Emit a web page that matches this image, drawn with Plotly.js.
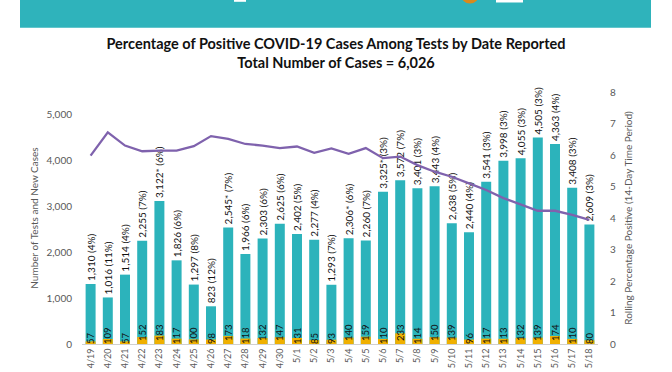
<!DOCTYPE html>
<html>
<head>
<meta charset="utf-8">
<script src="https://cdn.plot.ly/plotly-3.0.1.min.js"></script>
<style>
  html, body { margin: 0; padding: 0; background: #ffffff; }
  #chart { width: 672px; height: 372px; }
</style>
</head>
<body>
<div id="chart"></div>
<script>
// ---- data ----
const dates = ["4/19","4/20","4/21","4/22","4/23","4/24","4/25","4/26","4/27","4/28",
               "4/29","4/30","5/1","5/2","5/3","5/4","5/5","5/6","5/7","5/8",
               "5/9","5/10","5/11","5/12","5/13","5/14","5/15","5/16","5/17","5/18"];
const tests = [1310,1016,1514,2255,3122,1826,1297,823,2545,1966,
               2303,2625,2402,2277,1293,2306,2260,3325,3572,3401,
               3443,2638,2440,3541,3998,4055,4505,4363,3408,2609];
const starred = [false,false,false,false,true,false,false,false,true,false,
                 false,false,false,false,false,true,false,true,false,false,
                 false,false,false,false,false,false,false,false,false,false];
const dailyPct = [4,11,4,7,6,6,8,12,7,6,
                  6,6,5,4,7,6,7,3,7,3,
                  4,5,4,3,3,3,3,4,3,3];
const newCases = [57,109,57,152,183,117,100,98,173,118,
                  132,147,131,85,93,140,159,110,233,114,
                  150,139,96,117,113,132,139,174,110,80];
const rollingPct = [5.98,6.72,6.30,6.12,6.14,6.14,6.28,6.60,6.51,6.35,
                    6.30,6.22,6.27,6.07,6.21,6.04,6.22,5.90,5.95,5.68,
                    5.47,5.31,5.10,4.89,4.63,4.44,4.23,4.23,4.10,3.94];
const leftTicks = [0,1000,2000,3000,4000,5000];
const rightTicks = [0,1,2,3,4,5,6,7,8];

// ---- labels built from the data ----
const testLabels = tests.map((v, i) =>
  v.toLocaleString("en-US") + (starred[i] ? "*" : "") + " (" + dailyPct[i] + "%)");
const caseLabels = newCases.map(v => String(v));

const FONT = "Lato, 'Open Sans', sans-serif";
const GREY = "#595959";

const traces = [
  {
    type: "bar", x: dates, y: tests, name: "Tests",
    marker: { color: "#2cb3bb" },
    text: testLabels, textposition: "outside", textangle: -90,
    textfont: { family: FONT, size: 10, color: "#111111" },
    constraintext: "none", cliponaxis: false, hoverinfo: "skip"
  },
  {
    type: "bar", x: dates, y: newCases, name: "New Cases",
    marker: { color: "#f0b000" },
    text: caseLabels, textposition: "inside", insidetextanchor: "start", textangle: -90,
    insidetextfont: { family: FONT, size: 9.5, color: "#111111" },
    constraintext: "none", cliponaxis: false, hoverinfo: "skip"
  },
  {
    type: "scatter", mode: "lines", x: dates, y: rollingPct, yaxis: "y2",
    name: "Rolling %", line: { color: "#7f62ad", width: 2.3 }, hoverinfo: "skip"
  }
];

// plot area: x 82..598, y 92..344 (px)
const L = 82, R = 598, T = 92, B = 344;
const px = x => (x - L) / (R - L);
const py = y => (B - y) / (B - T);

const layout = {
  width: 672, height: 372,
  margin: { l: L, r: 672 - R, t: T, b: 372 - B, pad: 0 },
  paper_bgcolor: "#ffffff", plot_bgcolor: "#ffffff",
  showlegend: false,
  barmode: "overlay", bargap: 0.42,
  font: { family: FONT, color: GREY },
  title: {
    text: "Percentage of Positive COVID-19 Cases Among Tests by Date Reported<br>Total Number of Cases = 6,026",
    font: { family: FONT, size: 14.5, color: "#111111", weight: "bold" },
    x: 0.5, xanchor: "center", xref: "container",
    y: 1 - 49 / 372, yanchor: "top", yref: "container"
  },
  xaxis: {
    type: "category", tickangle: -90,
    tickfont: { family: FONT, size: 9, color: GREY },
    showline: true, linecolor: "#d0d0d0", linewidth: 1,
    showgrid: false, zeroline: false, ticks: "", fixedrange: true
  },
  yaxis: {
    range: [0, 5500], tickvals: leftTicks, tickformat: ",",
    tickfont: { family: FONT, size: 10, color: GREY },
    showgrid: false, zeroline: false, showline: false, ticks: "",
    ticklabelstandoff: 9,
    title: { text: "Number of Tests and New Cases", font: { family: FONT, size: 10, color: GREY }, standoff: 6 }
  },
  yaxis2: {
    overlaying: "y", side: "right",
    range: [0, 8], tickvals: rightTicks, ticksuffix: "%",
    tickfont: { family: FONT, size: 10, color: GREY },
    showgrid: false, zeroline: false, showline: false, ticks: "",
    ticklabelstandoff: 11,
    title: { text: "Rolling Percentage Positive (14-Day Time Period)", font: { family: FONT, size: 10, color: GREY }, standoff: 9 }
  },
  shapes: [
    { type: "rect", xref: "paper", yref: "paper", layer: "below",
      x0: px(20), x1: px(651), y0: py(27.7), y1: py(0),
      fillcolor: "#2fb3bb", line: { width: 0 } },
    { type: "circle", xref: "paper", yref: "paper",
      x0: px(461), x1: px(479), y0: py(3.5), y1: py(-14),
      fillcolor: "#d98a1c", line: { width: 0 } },
    { type: "rect", xref: "paper", yref: "paper",
      x0: px(496), x1: px(523), y0: py(2.5), y1: py(0),
      fillcolor: "#ffffff", line: { width: 0 } },
    { type: "rect", xref: "paper", yref: "paper",
      x0: px(234), x1: px(246), y0: py(1.8), y1: py(0),
      fillcolor: "#ffffff", line: { width: 0 } }
  ]
};

Plotly.newPlot("chart", traces, layout, { displayModeBar: false, staticPlot: true });
</script>
</body>
</html>
